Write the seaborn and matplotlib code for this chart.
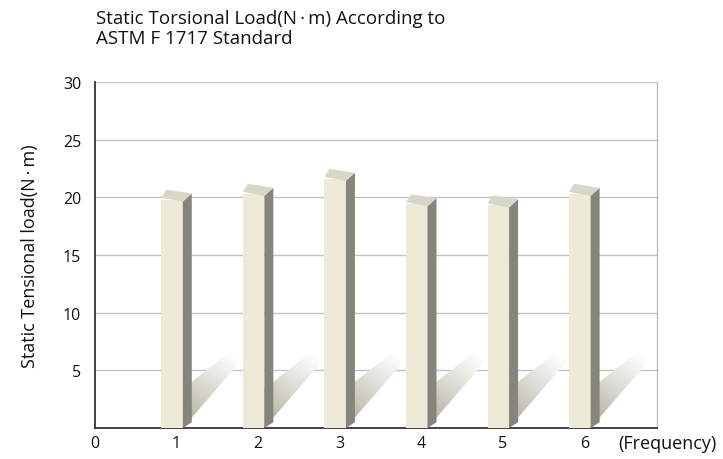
import numpy as np
import pandas as pd
import matplotlib
matplotlib.use("Agg")
import matplotlib.pyplot as plt
import seaborn as sns
from matplotlib.patches import Polygon
from matplotlib.colors import LinearSegmentedColormap

# values
frequency = [1, 2, 3, 4, 5, 6]
load = [19.8, 20.3, 21.6, 19.4, 19.3, 20.3]
y_ticks = [5, 10, 15, 20, 25, 30]
x_ticks = [0, 1, 2, 3, 4, 5, 6]

title = "Static Torsional Load(N\u2009\u00b7\u2009m) According to\nASTM F 1717 Standard"
y_label = "Static Tensional load(N\u2009\u00b7\u2009m)"
x_note = "(Frequency)"

front_color = "#EDEAD9"
side_color = "#85857B"
top_color = "#D7D6C7"

sns.set_style("white")
plt.rcParams["font.family"] = ["Open Sans", "DejaVu Sans"]

fig = plt.figure(figsize=(7.23, 4.60), dpi=100)
ax = fig.add_axes([0.1314, 0.0674, 0.7773, 0.7522])

df = pd.DataFrame({"freq": frequency, "load": load})
sns.barplot(data=df, x="freq", y="load", native_scale=True, width=0.263,
            color=front_color, saturation=1, edgecolor="none", ax=ax, zorder=4)

# fake 3D look: side face, top face and a fading floor shadow per bar
depth_x, depth_y, tilt = 0.11, 0.70, 0.17
shade = LinearSegmentedColormap.from_list("shade", ["#A4A28C", "#FFFFFF"])
for p in list(ax.patches):
    p.set_x(p.get_x() - 0.055)
    x0 = p.get_x()
    x1 = x0 + p.get_width()
    v = p.get_height()

    side = Polygon([(x1, 0), (x1, v - tilt), (x1 + depth_x, v - tilt + depth_y),
                    (x1 + depth_x, 0.5)], closed=True, fc=side_color, ec="none", zorder=5)
    top = Polygon([(x0, v + tilt), (x1, v - tilt), (x1 + depth_x, v - tilt + depth_y),
                   (x0 + depth_x * 0.55, v + tilt + depth_y)],
                  closed=True, fc=top_color, ec="none", zorder=5)
    ax.add_patch(side)
    ax.add_patch(top)

    xs = x1 + depth_x
    shadow = Polygon([(x1, 0.0), (x1, 3.4), (xs + 0.47, 6.6), (xs + 0.60, 5.8)],
                     closed=True, fc="none", ec="none")
    ax.add_patch(shadow)
    gx = np.linspace(x1, xs + 0.6, 80)
    gy = np.linspace(0, 6.6, 80)
    GX, GY = np.meshgrid(gx, gy)
    # projection along the shadow direction, in pixel-like units
    dxp, dyp = (xs + 0.55 - x1) * 81.6, 6.2 * 11.53
    t = ((GX - x1) * 81.6 * dxp + GY * 11.53 * dyp) / (dxp ** 2 + dyp ** 2)
    t = np.clip(t, 0, 1) ** 0.8
    im = ax.imshow(t, cmap=shade, vmin=0, vmax=1, origin="lower", aspect="auto",
                   extent=(x1, xs + 0.6, 0, 6.6), zorder=2, interpolation="bilinear")
    im.set_clip_path(shadow)

ax.set_xlim(0, 6.89)
ax.set_ylim(0, 30)
ax.set_xticks(x_ticks)
ax.set_xticklabels([str(x) for x in x_ticks], fontsize=11.5)
ax.set_yticks(y_ticks)
ax.set_yticklabels([str(y) for y in y_ticks], fontsize=11.5)
ax.tick_params(axis="x", length=0, pad=5, colors="#111111")
ax.tick_params(axis="y", length=0, pad=10, colors="#111111")
ax.yaxis.grid(True, color="#C2C2C2", lw=1.0)
ax.set_axisbelow(True)

for s in ["left", "bottom"]:
    ax.spines[s].set_color("#333333")
    ax.spines[s].set_linewidth(1.3)
ax.spines["right"].set_color("#BDBDBD")
ax.spines["right"].set_linewidth(1.0)
ax.spines["top"].set_visible(False)

ax.set_xlabel("")
ax.set_ylabel(y_label, fontsize=13, color="#111111")
ax.yaxis.set_label_coords(-0.1, 0.5)

fig.text(96 / 723, 1 - 10 / 460, title, ha="left", va="top", fontsize=13.5,
         color="#111111", linespacing=1.15)
fig.text(618 / 723, 1 - 444 / 460, x_note, ha="left", va="center", fontsize=13,
         color="#111111")

fig.savefig("out.png", dpi=100)
